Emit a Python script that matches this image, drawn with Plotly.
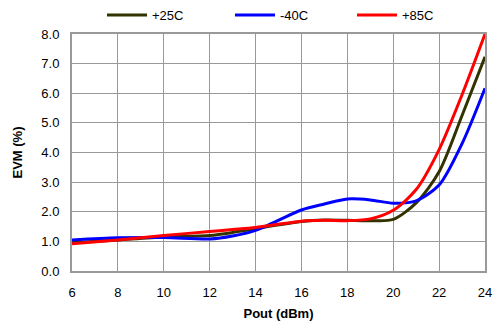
import plotly.graph_objects as go

pout = [6, 8, 10, 12, 13, 14, 16, 17, 18, 19, 20, 21, 22, 23, 24]

evm_25c = [0.95, 1.05, 1.15, 1.2, 1.3, 1.43, 1.67, 1.72, 1.71, 1.70, 1.74, 2.3, 3.35, 5.25, 7.23]
evm_m40c = [1.05, 1.12, 1.13, 1.08, 1.18, 1.37, 2.06, 2.26, 2.43, 2.40, 2.29, 2.37, 2.9, 4.3, 6.17]
evm_85c = [0.92, 1.05, 1.2, 1.33, 1.40, 1.47, 1.68, 1.71, 1.70, 1.76, 2.05, 2.75, 4.1, 5.95, 8.0]

series = [
    ("+25C", evm_25c, "#333300", "legend"),
    ("-40C", evm_m40c, "#0000ff", "legend2"),
    ("+85C", evm_85c, "#ff0000", "legend3"),
]

fig = go.Figure()
for name, vals, color, leg in series:
    fig.add_trace(go.Scatter(
        x=pout, y=vals, name=name, mode="lines", legend=leg,
        line=dict(color=color, width=3, shape="spline", smoothing=0.8),
    ))

font = dict(family="Liberation Sans, Arial, sans-serif", size=13, color="#000")


def legend_box(x_px):
    return dict(
        orientation="h", x=x_px / 493, y=1.0, xref="container", yref="container",
        xanchor="left", yanchor="top", font=dict(size=13), itemwidth=40,
        bgcolor="rgba(0,0,0,0)",
    )


fig.update_layout(
    width=493, height=326,
    margin=dict(l=72, r=8, t=34, b=55, autoexpand=False),
    paper_bgcolor="white", plot_bgcolor="white",
    font=font,
    showlegend=True,
    legend=legend_box(102),
    legend2=legend_box(230),
    legend3=legend_box(352),
    xaxis=dict(
        range=[6, 24], tickmode="array", tickvals=list(range(6, 25, 2)),
        showgrid=True, gridcolor="#999999", gridwidth=1,
        showline=True, linecolor="#999999", linewidth=2, mirror=True,
        zeroline=False, ticks="", ticklabelstandoff=8, ticklabeloverflow="allow",
        title=dict(text="<b>Pout (dBm)</b>", font=dict(size=13), standoff=10),
    ),
    yaxis=dict(
        range=[0, 8], tickmode="array", tickvals=list(range(0, 9)),
        tickformat=".1f",
        showgrid=True, gridcolor="#999999", gridwidth=1,
        showline=True, linecolor="#999999", linewidth=2, mirror=True,
        zeroline=False, ticks="", ticklabelstandoff=8, ticklabeloverflow="allow",
        title=dict(text="<b>EVM (%)</b>", font=dict(size=13), standoff=16),
    ),
)

fig.write_html("out.html")
